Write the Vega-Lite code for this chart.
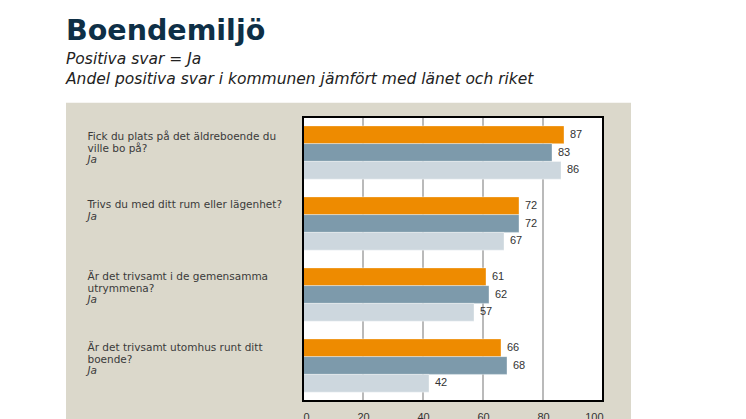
{
  "$schema": "https://vega.github.io/schema/vega-lite/v6.json",
  "width": 300,
  "height": 284,
  "autosize": {"type": "none"},
  "padding": {"left": 303, "top": 117, "right": 143, "bottom": 18},
  "background": "white",
  "config": {"view": {"stroke": null}},
  "title": {
    "text": "Boendemiljö",
    "subtitle": ["Positiva svar = Ja", "Andel positiva svar i kommunen jämfört med länet och riket"],
    "anchor": "start",
    "frame": "bounds",
    "font": "DejaVu Sans",
    "fontSize": 28.5,
    "fontWeight": "bold",
    "color": "#0e2f46",
    "subtitleFont": "DejaVu Sans",
    "subtitleFontSize": 15.5,
    "subtitleFontStyle": "italic",
    "subtitleColor": "#222222",
    "subtitleLineHeight": 20,
    "subtitlePadding": 7,
    "offset": 15
  },
  "data": {"values": [
    {"question": "Fick du plats på det äldreboende du ville bo på?", "series": "Kommun", "value": 87},
    {"question": "Fick du plats på det äldreboende du ville bo på?", "series": "Län", "value": 83},
    {"question": "Fick du plats på det äldreboende du ville bo på?", "series": "Riket", "value": 86},
    {"question": "Trivs du med ditt rum eller lägenhet?", "series": "Kommun", "value": 72},
    {"question": "Trivs du med ditt rum eller lägenhet?", "series": "Län", "value": 72},
    {"question": "Trivs du med ditt rum eller lägenhet?", "series": "Riket", "value": 67},
    {"question": "Är det trivsamt i de gemensamma utrymmena?", "series": "Kommun", "value": 61},
    {"question": "Är det trivsamt i de gemensamma utrymmena?", "series": "Län", "value": 62},
    {"question": "Är det trivsamt i de gemensamma utrymmena?", "series": "Riket", "value": 57},
    {"question": "Är det trivsamt utomhus runt ditt boende?", "series": "Kommun", "value": 66},
    {"question": "Är det trivsamt utomhus runt ditt boende?", "series": "Län", "value": 68},
    {"question": "Är det trivsamt utomhus runt ditt boende?", "series": "Riket", "value": 42}
  ]},
  "resolve": {"scale": {"y": "independent"}, "axis": {"y": "independent"}},
  "layer": [
    {
      "data": {"values": [{}]},
      "mark": {"type": "rect", "fill": "#dbd8cb"},
      "encoding": {
        "x": {
          "datum": -79, "type": "quantitative", "scale": {"domain": [0, 100], "nice": false},
          "axis": {"orient": "bottom", "title": null, "domain": false, "ticks": false, "tickSize": 0, "grid": false, "zindex": 3, "values": [0, 20, 40, 60, 80, 100], "labelFont": "Liberation Sans", "labelFontSize": 11, "labelColor": "#333333", "labelPadding": 10}
        },
        "x2": {"datum": 109.33},
        "y": {"datum": 1.05, "type": "quantitative", "scale": {"domain": [0, 1], "nice": false}, "axis": null},
        "y2": {"datum": -0.4}
      }
    },
    {
      "data": {"values": [{}]},
      "mark": {"type": "rect", "fill": "white"},
      "encoding": {
        "x": {
          "datum": 0, "type": "quantitative", "scale": {"domain": [0, 100], "nice": false},
          "axis": {"orient": "bottom", "title": null, "domain": false, "ticks": false, "tickSize": 0, "grid": false, "zindex": 3, "values": [0, 20, 40, 60, 80, 100], "labelFont": "Liberation Sans", "labelFontSize": 11, "labelColor": "#333333", "labelPadding": 10}
        },
        "x2": {"datum": 100}
      }
    },
    {
      "data": {"values": [{"v": 20}, {"v": 40}, {"v": 60}, {"v": 80}]},
      "mark": {"type": "rule", "color": "#a3a3a3", "strokeWidth": 1.5},
      "encoding": {
        "x": {
          "field": "v", "type": "quantitative", "scale": {"domain": [0, 100], "nice": false},
          "axis": {"orient": "bottom", "title": null, "domain": false, "ticks": false, "tickSize": 0, "grid": false, "zindex": 3, "values": [0, 20, 40, 60, 80, 100], "labelFont": "Liberation Sans", "labelFontSize": 11, "labelColor": "#333333", "labelPadding": 10}
        }
      }
    },
    {
      "mark": {"type": "bar", "stroke": "#ffffff", "strokeWidth": 0.6, "strokeOpacity": 0.6},
      "encoding": {
        "y": {
          "field": "question", "type": "nominal", "sort": null,
          "scale": {"paddingInner": 0.25, "paddingOuter": 0.125},
          "axis": {
            "orient": "left", "title": null, "domain": false, "ticks": false, "tickSize": 0, "zindex": 2,
            "labelAlign": "left", "labelBaseline": "top", "labelPadding": 216,
            "labelFont": "DejaVu Sans", "labelFontSize": 10.5, "labelColor": "#3a3a3a",
            "labelLineHeight": 11.5, "labelLimit": 300,
            "labelExpr": "split(replace(replace(replace(datum.label, 'boende du ', 'boende du|'), 'gemensamma ', 'gemensamma|'), 'runt ditt ', 'runt ditt|'), '|')",
            "labelOffset": {"condition": [
              {"test": "indexof(datum.value, 'Trivs') == 0", "value": -23.5},
              {"test": "indexof(datum.value, 'Fick') == 0", "value": -20.5}
            ], "value": -22.5}
          }
        },
        "x": {
          "field": "value", "type": "quantitative", "scale": {"domain": [0, 100], "nice": false},
          "axis": {"orient": "bottom", "title": null, "domain": false, "ticks": false, "tickSize": 0, "grid": false, "zindex": 3, "values": [0, 20, 40, 60, 80, 100], "labelFont": "Liberation Sans", "labelFontSize": 11, "labelColor": "#333333", "labelPadding": 10}
        },
        "yOffset": {"field": "series", "sort": ["Kommun", "Län", "Riket"], "scale": {"paddingInner": 0, "paddingOuter": 0}},
        "color": {
          "field": "series", "type": "nominal",
          "scale": {"domain": ["Kommun", "Län", "Riket"], "range": ["#ee8b00", "#7d9aab", "#cdd7de"]},
          "legend": null
        }
      }
    },
    {
      "mark": {"type": "text", "align": "left", "baseline": "middle", "dx": 6, "font": "Liberation Sans", "fontSize": 11, "fill": "#333333"},
      "encoding": {
        "y": {
          "field": "question", "type": "nominal", "sort": null,
          "scale": {"paddingInner": 0.25, "paddingOuter": 0.125},
          "axis": {
            "orient": "left", "title": null, "domain": false, "ticks": false, "tickSize": 0, "zindex": 2,
            "labelAlign": "left", "labelBaseline": "top", "labelPadding": 216,
            "labelFont": "DejaVu Sans", "labelFontSize": 10.5, "labelFontStyle": "italic", "labelColor": "#3a3a3a",
            "labelLimit": 300,
            "labelExpr": "'Ja'",
            "labelOffset": {"condition": [
              {"test": "indexof(datum.value, 'Trivs') == 0", "value": -12},
              {"test": "indexof(datum.value, 'Fick') == 0", "value": 2.5}
            ], "value": 0.5}
          }
        },
        "x": {
          "field": "value", "type": "quantitative", "scale": {"domain": [0, 100], "nice": false},
          "axis": {"orient": "bottom", "title": null, "domain": false, "ticks": false, "tickSize": 0, "grid": false, "zindex": 3, "values": [0, 20, 40, 60, 80, 100], "labelFont": "Liberation Sans", "labelFontSize": 11, "labelColor": "#333333", "labelPadding": 10}
        },
        "yOffset": {"field": "series", "sort": ["Kommun", "Län", "Riket"], "scale": {"paddingInner": 0, "paddingOuter": 0}},
        "text": {"field": "value", "type": "quantitative"}
      }
    },
    {
      "data": {"values": [{}]},
      "mark": {"type": "rect", "fillOpacity": 0, "stroke": "#000000", "strokeWidth": 2},
      "encoding": {
        "x": {
          "datum": 0, "type": "quantitative", "scale": {"domain": [0, 100], "nice": false},
          "axis": {"orient": "bottom", "title": null, "domain": false, "ticks": false, "tickSize": 0, "grid": false, "zindex": 3, "values": [0, 20, 40, 60, 80, 100], "labelFont": "Liberation Sans", "labelFontSize": 11, "labelColor": "#333333", "labelPadding": 10}
        },
        "x2": {"datum": 100}
      }
    }
  ]
}
